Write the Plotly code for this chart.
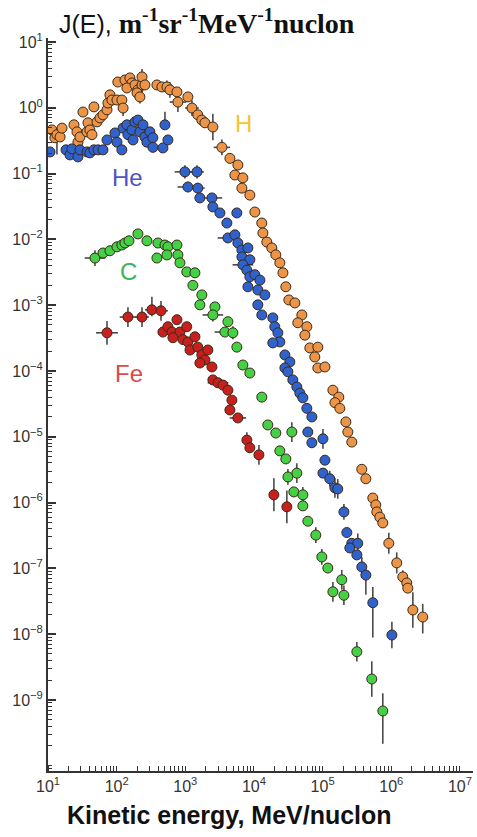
import numpy as np
import plotly.graph_objects as go

# Differential flux J(E) of cosmic-ray nuclei vs kinetic energy per nucleon
# Energies in MeV/nucleon, fluxes in m^-1 sr^-1 MeV^-1 nucleon

H_E = [11.4, 12.6, 13.5, 15.0, 16.0, 23.9, 26.4, 27.3, 29.2, 32.3,
       37.0, 38.2, 40.8, 43.7, 46.7, 51.7, 57.1, 63.2, 72.3, 74.7,
       79.8, 85.4, 101, 119, 124, 104, 132, 156, 167, 141,
       185, 204, 234, 234, 258, 198, 218, 386, 456, 540,
       597, 755, 780, 1090, 1250, 1520, 1740, 1930, 2520, 3410,
       4460, 5830, 5270, 6890, 6670, 8710, 10300, 13000, 13500, 15400,
       18200, 20800, 23800, 26400, 29100, 32200, 39400, 49800, 43500, 58900,
       55100, 65100, 85100, 76900, 85100, 1.08e5, 1.41e5, 1.72e5, 1.51e5, 1.78e5,
       2.18e5, 2.33e5, 2.66e5, 3.72e5, 4.26e5, 5.38e5, 5.95e5, 6.15e5, 6.80e5, 7.52e5,
       9.20e5, 1.20e6, 1.47e6, 1.68e6, 1.74e6, 2.06e6, 2.87e6]
H_J = [0.46, 0.35, 0.39, 0.36, 0.49, 0.55, 0.43, 0.30, 0.36, 0.86,
       0.43, 0.59, 0.46, 0.39, 1.03, 0.61, 0.70, 0.78, 0.93, 1.18,
       1.57, 1.31, 1.31, 1.31, 0.99, 2.46, 2.64, 2.84, 2.38, 2.00,
       2.22, 1.87, 2.22, 2.94, 2.22, 1.68, 1.46, 2.22, 2.07, 2.07,
       1.87, 1.74, 1.22, 1.46, 0.99, 0.78, 0.65, 0.59, 0.51, 0.25,
       0.17, 0.135, 0.095, 0.086, 0.060, 0.047, 0.026, 0.0177, 0.0125, 0.0091,
       0.0074, 0.0058, 0.0044, 0.0031, 0.0019, 0.0012, 0.00108, 7.1e-4, 5.4e-4, 4.7e-4,
       3.5e-4, 2.24e-4, 2.3e-4, 1.63e-4, 1.11e-4, 1.15e-4, 5.1e-5, 4.0e-5, 3.3e-5, 2.7e-5,
       1.68e-5, 1.18e-5, 8.3e-6, 3.2e-6, 2.3e-6, 1.17e-6, 9.2e-7, 7.2e-7, 6.0e-7, 4.9e-7,
       2.4e-7, 1.21e-7, 7.4e-8, 6.0e-8, 5.0e-8, 2.33e-8, 1.82e-8]
# error bars: point index -> (half-width in E, upper, lower), all in decades
H_ERR = {2: (0, 0.1, 0.3), 7: (0, 0.12, 0.12), 24: (0, 0.12, 0.12),
         33: (0, 0.12, 0.12), 36: (0, 0.1, 0.1), 39: (0.1, 0.1, 0.1),
         40: (0.1, 0.12, 0.12), 42: (0.12, 0.15, 0.15), 44: (0.1, 0.12, 0.12),
         48: (0, 0.2, 0.2), 49: (0.12, 0.12, 0.12), 90: (0, 0.16, 0.16),
         91: (0, 0.16, 0.16), 92: (0, 0.1, 0.1), 95: (0, 0.27, 0.27),
         96: (0, 0.2, 0.25)}

He_E = [10.7, 18.3, 20.9, 22.3, 27.3, 29.2, 37.0, 40.8, 46.7, 53.5,
        63.2, 72.3, 94.4, 101, 119, 124, 141, 146, 167, 173,
        185, 204, 218, 242, 258, 276, 305, 337, 337, 472,
        505, 558, 986, 1480, 1090, 1520, 1630, 2440, 2520, 3190,
        4030, 5630, 4170, 5270, 5830, 6670, 8150, 6670, 8710, 6890,
        7880, 8710, 10300, 12200, 8150, 11400, 14400, 11400, 13000, 18800,
        20100, 22300, 23800, 18800, 28200, 33300, 28200, 31200, 36800, 42100,
        46600, 51500, 58900, 69700, 60900, 69700, 1.01e5, 1.08e5, 1.01e5, 1.27e5,
        1.51e5, 1.66e5, 2.04e5, 2.25e5, 2.66e5, 3.25e5, 2.49e5, 3.15e5, 3.72e5, 4.26e5,
        5.38e5, 1.02e6]
He_J = [0.213, 0.229, 0.192, 0.237, 0.179, 0.229, 0.213, 0.206, 0.229, 0.229,
        0.229, 0.324, 0.414, 0.30, 0.229, 0.49, 0.55, 0.39, 0.46, 0.324,
        0.61, 0.65, 0.43, 0.55, 0.36, 0.30, 0.43, 0.35, 0.25, 0.245,
        0.55, 0.324, 0.106, 0.106, 0.0625, 0.060, 0.0426, 0.0426, 0.0311, 0.0252,
        0.0177, 0.0252, 0.0105, 0.0117, 0.0088, 0.0069, 0.0074, 0.0054, 0.0049, 0.0041,
        0.0034, 0.0027, 0.0029, 0.0024, 0.0019, 0.0017, 0.00143, 0.00101, 7.1e-4, 6.4e-4,
        4.7e-4, 3.8e-4, 2.76e-4, 2.67e-4, 1.75e-4, 1.37e-4, 1.11e-4, 9.7e-5, 7.3e-5, 5.7e-5,
        4.6e-5, 3.9e-5, 2.7e-5, 2.0e-5, 1.18e-5, 8.1e-6, 9.3e-6, 4.4e-6, 2.8e-6, 2.3e-6,
        1.67e-6, 1.61e-6, 7.2e-7, 3.5e-7, 2.4e-7, 2.4e-7, 2.04e-7, 1.6e-7, 1.05e-7, 7.9e-8,
        3.0e-8, 9.7e-9]
He_ERR = {30: (0, 0.2, 0.05), 32: (0.15, 0.1, 0.1), 33: (0.1, 0.1, 0.1),
          34: (0.15, 0.08, 0.08), 35: (0.1, 0.08, 0.08), 37: (0.15, 0, 0),
          42: (0.15, 0, 0), 49: (0.15, 0, 0), 76: (0, 0.15, 0.15),
          79: (0, 0.12, 0.12), 80: (0, 0.15, 0.15), 81: (0, 0.15, 0.15),
          82: (0, 0.12, 0.12), 85: (0, 0.15, 0.15), 88: (0, 0.15, 0.15),
          89: (0, 0.05, 0.3), 90: (0, 0.24, 0.53), 91: (0, 0.2, 0.2)}

C_E = [48.3, 63.2, 79.8, 101, 119, 132, 151, 204, 276, 399,
       505, 558, 755, 386, 540, 780, 834, 1050, 1380, 1290,
       1740, 1630, 2700, 2520, 4170, 3770, 4930, 5630, 6890, 8710,
       13000, 15900, 20800, 35600, 23800, 29100, 31200, 42100, 38100, 51500,
       51500, 60900, 79600, 97300, 1.19e5, 1.90e5, 1.41e5, 2.04e5, 3.15e5, 5.20e5,
       7.52e5]
C_J = [0.0052, 0.0062, 0.0067, 0.0077, 0.0082, 0.0088, 0.0095, 0.0121, 0.0095, 0.0088,
       0.0082, 0.0077, 0.0082, 0.0052, 0.0058, 0.0058, 0.0044, 0.0032, 0.0031, 0.0020,
       0.00143, 0.00101, 9.4e-4, 7.1e-4, 5.6e-4, 3.9e-4, 3.8e-4, 2.3e-4, 1.23e-4, 9.3e-5,
       4.0e-5, 1.51e-5, 1.14e-5, 1.18e-5, 6.1e-6, 4.6e-6, 2.45e-6, 2.8e-6, 1.45e-6, 1.31e-6,
       8.9e-7, 5.2e-7, 3.2e-7, 1.49e-7, 1.01e-7, 6.7e-8, 4.4e-8, 3.9e-8, 5.4e-9, 2.08e-9,
       6.8e-10]
C_ERR = {0: (0.15, 0.12, 0.12), 23: (0.15, 0.1, 0.1), 25: (0.15, 0, 0),
         26: (0, 0.1, 0.1), 33: (0, 0.15, 0.15), 36: (0, 0.12, 0.12),
         37: (0, 0.15, 0.15), 39: (0, 0.12, 0.12), 42: (0, 0.12, 0.12),
         43: (0, 0.12, 0.12), 45: (0, 0.15, 0.15), 46: (0, 0.15, 0.15),
         47: (0, 0.15, 0.15), 48: (0, 0.15, 0.15), 49: (0, 0.27, 0.27),
         50: (0, 0.27, 0.5)}

Fe_E = [72.3, 146, 234, 326, 442, 472, 558, 755, 638, 834,
        1050, 660, 923, 1090, 1380, 1170, 1520, 1740, 1930, 2130,
        2440, 1630, 2520, 2990, 3530, 4170, 4770, 4460, 5830, 7880,
        8710, 11800, 19500, 30100]
Fe_J = [3.8e-4, 6.6e-4, 6.6e-4, 8.5e-4, 8.2e-4, 3.9e-4, 4.7e-4, 6.0e-4, 3.9e-4, 3.9e-4,
        4.7e-4, 3.2e-4, 3.0e-4, 2.76e-4, 3.3e-4, 2.08e-4, 2.3e-4, 1.75e-4, 1.47e-4, 2.08e-4,
        1.15e-4, 1.32e-4, 7.3e-5, 6.6e-5, 6.1e-5, 5.1e-5, 3.6e-5, 2.55e-5, 1.93e-5, 8.9e-6,
        6.8e-6, 5.3e-6, 1.31e-6, 8.6e-7]
Fe_ERR = {0: (0.16, 0.18, 0.18), 1: (0.12, 0.15, 0.15), 2: (0.1, 0.15, 0.15),
          3: (0.1, 0.2, 0.1), 4: (0.1, 0.15, 0.15), 23: (0.15, 0, 0),
          28: (0.12, 0, 0), 29: (0, 0.12, 0.12), 31: (0, 0.15, 0.15),
          32: (0, 0.25, 0.25), 33: (0, 0.25, 0.25)}

# species label text, label position (E, J), label colour, marker colour
SPECIES = [
    ("H", H_E, H_J, H_ERR, (7130, 0.567), "#F7C42E", "#EC9448"),
    ("He", He_E, He_J, He_ERR, (146, 0.0857), "#4F52C6", "#2F62CC"),
    ("C", C_E, C_J, C_ERR, (151, 0.0032), "#3FB25A", "#45D045"),
    ("Fe", Fe_E, Fe_J, Fe_ERR, (151, 9.3e-5), "#E0474A", "#C8201E"),
]

X_TICKS = [1e1, 1e2, 1e3, 1e4, 1e5, 1e6, 1e7]
X_TICKTEXT = ["10<sup>1</sup>", "10<sup>2</sup>", "10<sup>3</sup>", "10<sup>4</sup>",
              "10<sup>5</sup>", "10<sup>6</sup>", "10<sup>7</sup>"]
Y_TICKS = [1e1, 1e0, 1e-1, 1e-2, 1e-3, 1e-4, 1e-5, 1e-6, 1e-7, 1e-8, 1e-9]
Y_TICKTEXT = ["10<sup>1</sup>", "10<sup>0</sup>", "10<sup>\u22121</sup>", "10<sup>\u22122</sup>",
              "10<sup>\u22123</sup>", "10<sup>\u22124</sup>", "10<sup>\u22125</sup>",
              "10<sup>\u22126</sup>", "10<sup>\u22127</sup>", "10<sup>\u22128</sup>",
              "10<sup>\u22129</sup>"]


def error_arrays(vals, errs, which):
    """Turn per-point decade errors into plotly plus/minus arrays."""
    v = np.asarray(vals, dtype=float)
    plus = np.zeros_like(v)
    minus = np.zeros_like(v)
    for i, (dx, up, dn) in errs.items():
        if which == "x":
            up, dn = dx, dx
        plus[i] = v[i] * (10 ** up - 1)
        minus[i] = v[i] * (1 - 10 ** (-dn))
    return plus, minus


fig = go.Figure()
annotations = []
for name, E, J, ERR, (lx, ly), lcol, mcol in SPECIES:
    xp, xm = error_arrays(E, ERR, "x")
    yp, ym = error_arrays(J, ERR, "y")
    fig.add_trace(go.Scatter(
        x=E, y=J, mode="markers", name=name,
        marker=dict(size=10, color=mcol, line=dict(color="#3a2a18", width=1)),
        error_x=dict(type="data", symmetric=False, array=xp, arrayminus=xm,
                     color="#4a4a4a", thickness=1.6, width=0),
        error_y=dict(type="data", symmetric=False, array=yp, arrayminus=ym,
                     color="#4a4a4a", thickness=1.6, width=0),
        showlegend=False,
    ))
    annotations.append(dict(
        x=np.log10(lx), y=np.log10(ly), xref="x", yref="y", text=name,
        showarrow=False, font=dict(family="Liberation Sans, Arial", size=24, color=lcol),
    ))

# axis title for J(E): sans symbol followed by bold serif units
annotations.append(dict(
    x=0.375, y=1.022, xref="paper", yref="paper", xanchor="center", yanchor="middle",
    showarrow=False,
    text=("<span style='font-family:Liberation Sans;font-size:25px'>J(E),</span> "
          "<b>m<sup>-1</sup>sr<sup>-1</sup>MeV<sup>-1</sup>nuclon</b>"),
    font=dict(family="Liberation Serif, Times New Roman", size=28, color="#111111"),
))
annotations.append(dict(
    x=0.428, y=-0.06, xref="paper", yref="paper", xanchor="center", yanchor="middle",
    showarrow=False, text="<b>Kinetic energy, MeV/nuclon</b>",
    font=dict(family="Liberation Sans, Arial", size=25, color="#111111"),
))

axis_font = dict(family="Liberation Sans, Arial", size=16, color="#333333")
fig.update_layout(
    width=477, height=837,
    margin=dict(l=48, r=4, t=38, b=66),
    paper_bgcolor="white", plot_bgcolor="white",
    annotations=annotations,
    xaxis=dict(
        type="log", range=[1.0, 7.19],
        tickmode="array", tickvals=X_TICKS, ticktext=X_TICKTEXT,
        ticks="", tickfont=axis_font, showgrid=False, zeroline=False,
        showline=True, linecolor="#333333", linewidth=2,
        minor=dict(ticks="inside", ticklen=5, tickcolor="#333333", tickwidth=1,
                   dtick="D1", showgrid=False),
    ),
    yaxis=dict(
        type="log", range=[-10.08, 1.06],
        tickmode="array", tickvals=Y_TICKS, ticktext=Y_TICKTEXT,
        ticks="inside", ticklen=8, tickwidth=2, tickcolor="#333333",
        tickfont=axis_font, showgrid=False, zeroline=False,
        showline=True, linecolor="#333333", linewidth=2,
        minor=dict(ticks="inside", ticklen=4, tickcolor="#333333", tickwidth=1,
                   dtick="D1", showgrid=False),
    ),
)

fig.write_html("out.html")
